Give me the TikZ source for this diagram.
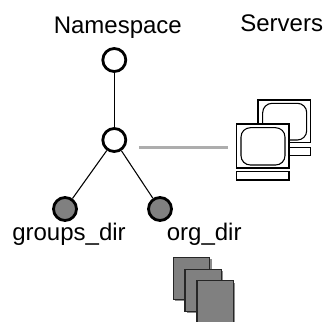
\documentclass[tikz,border=0pt]{standalone}
\usepackage{fontspec}
\setmainfont{Liberation Sans}
\tikzset{
  lbl/.style={font=\fontsize{18}{20}\selectfont, inner sep=0pt, anchor=base},
  opennode/.style={circle, draw, line width=2.1pt, fill=white, minimum size=23*0.75pt, inner sep=0pt},
  dirnode/.style={circle, draw, line width=2.1pt, fill=black!50, minimum size=23*0.75pt, inner sep=0pt},
  monitor/.style={draw, line width=0.8pt, fill=white},
  screen/.style={draw, line width=0.8pt, rounded corners=7pt},
  page/.style={draw=black!85, line width=0.9pt, fill=black!50}
}
\begin{document}
\begin{tikzpicture}[x=0.75pt,y=0.75pt,yscale=-1,xscale=1]
  \useasboundingbox (0,0) rectangle (326,322);
  % tree
  \node[opennode] (root) at (114.3,60) {};
  \node[opennode] (mid) at (114.3,140) {};
  \node[dirnode] (groups) at (65,209) {};
  \node[dirnode] (org) at (160,209) {};
  \draw[line width=0.8pt] (root) -- (mid);
  \draw[line width=0.8pt] (mid) -- (groups);
  \draw[line width=0.8pt] (mid) -- (org);
  % labels
  \node[lbl] (nslabel) at (117.8,33.3) {Namespace};
  \node[lbl] (srvlabel) at (281.7,31.7) {Servers};
  \node[lbl] (groupslabel) at (69,240.5) {groups\_dir};
  \node[lbl] (orglabel) at (204.2,240) {org\_dir};
  % link to servers
  \coordinate (linkstart) at (139,147.5);
  \coordinate (linkend) at (228,147.5);
  \draw[line width=1.6pt, black!32] (linkstart) -- (linkend);
  % back server
  \draw[monitor] (258,100) rectangle (310.3,142.7);
  \draw[screen] (262.7,103.3) rectangle (306.7,140);
  \draw[monitor] (258,147.3) rectangle (310.3,155.5);
  % front server
  \draw[monitor] (236.7,124) rectangle (289,168);
  \draw[screen] (241,127.7) rectangle (285,165);
  \draw[monitor] (236.7,171.7) rectangle (289,180);
  % pages
  \foreach \px/\py in {173.3/257.3, 185/269.3, 197/280.7} {
    \fill[black!45] (\px+2,\py+2) rectangle (\px+38.5,\py+44);
    \draw[page] (\px,\py) rectangle (\px+36.5,\py+42);
  }
\end{tikzpicture}
\end{document}
